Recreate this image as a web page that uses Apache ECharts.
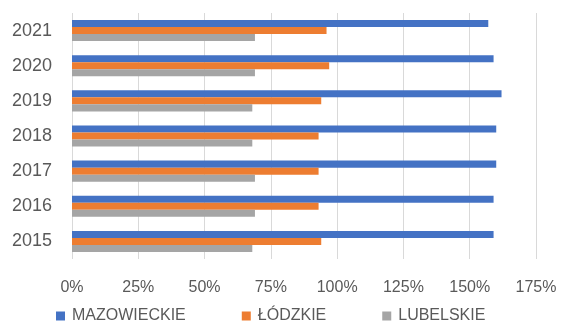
<!DOCTYPE html>
<html>
<head>
<meta charset="utf-8">
<script src="https://cdn.jsdelivr.net/npm/echarts@6/dist/echarts.min.js"></script>
<style>html,body{margin:0;padding:0;background:#fff;}#c{width:562px;height:322px;}</style>
</head>
<body>
<div id="c"></div>
<script>
const years = ['2021', '2020', '2019', '2018', '2017', '2016', '2015'];
const mazowieckie = [157, 159, 162, 160, 160, 159, 159];
const lodzkie = [96, 97, 94, 93, 93, 93, 94];
const lubelskie = [69, 69, 68, 68, 69, 69, 68];
const seriesNames = ['MAZOWIECKIE', 'ŁÓDZKIE', 'LUBELSKIE'];
const colors = ['#4472C4', '#ED7D31', '#A5A5A5'];

const chart = echarts.init(document.getElementById('c'), null, {renderer: 'canvas'});
const font = 'Liberation Sans, Arial, sans-serif';
chart.setOption({
  animation: false,
  grid: {left: 72, right: 26, top: 13, bottom: 63},
  legend: {
    data: seriesNames,
    left: 51, top: 303,
    itemWidth: 9, itemHeight: 9, itemGap: 56,
    icon: 'rect',
    textStyle: {fontFamily: font, fontSize: 16, color: '#595959', padding: [0, 0, 0, 2]}
  },
  xAxis: {
    type: 'value', min: 0, max: 175, interval: 25,
    axisLabel: {formatter: '{value}%', fontFamily: font, fontSize: 16, color: '#595959', margin: 21},
    axisLine: {show: false}, axisTick: {show: false},
    splitLine: {lineStyle: {color: '#D9D9D9', width: 1}}
  },
  yAxis: {
    type: 'category', data: years, inverse: true,
    axisLabel: {fontFamily: font, fontSize: 18, color: '#595959', margin: 20},
    axisLine: {show: false}, axisTick: {show: false}
  },
  series: [
    {name: seriesNames[0], type: 'bar', data: mazowieckie, itemStyle: {color: colors[0]}, barGap: '0%', barCategoryGap: '40%'},
    {name: seriesNames[1], type: 'bar', data: lodzkie, itemStyle: {color: colors[1]}, barGap: '0%', barCategoryGap: '40%'},
    {name: seriesNames[2], type: 'bar', data: lubelskie, itemStyle: {color: colors[2]}, barGap: '0%', barCategoryGap: '40%'}
  ]
});
</script>
</body>
</html>
